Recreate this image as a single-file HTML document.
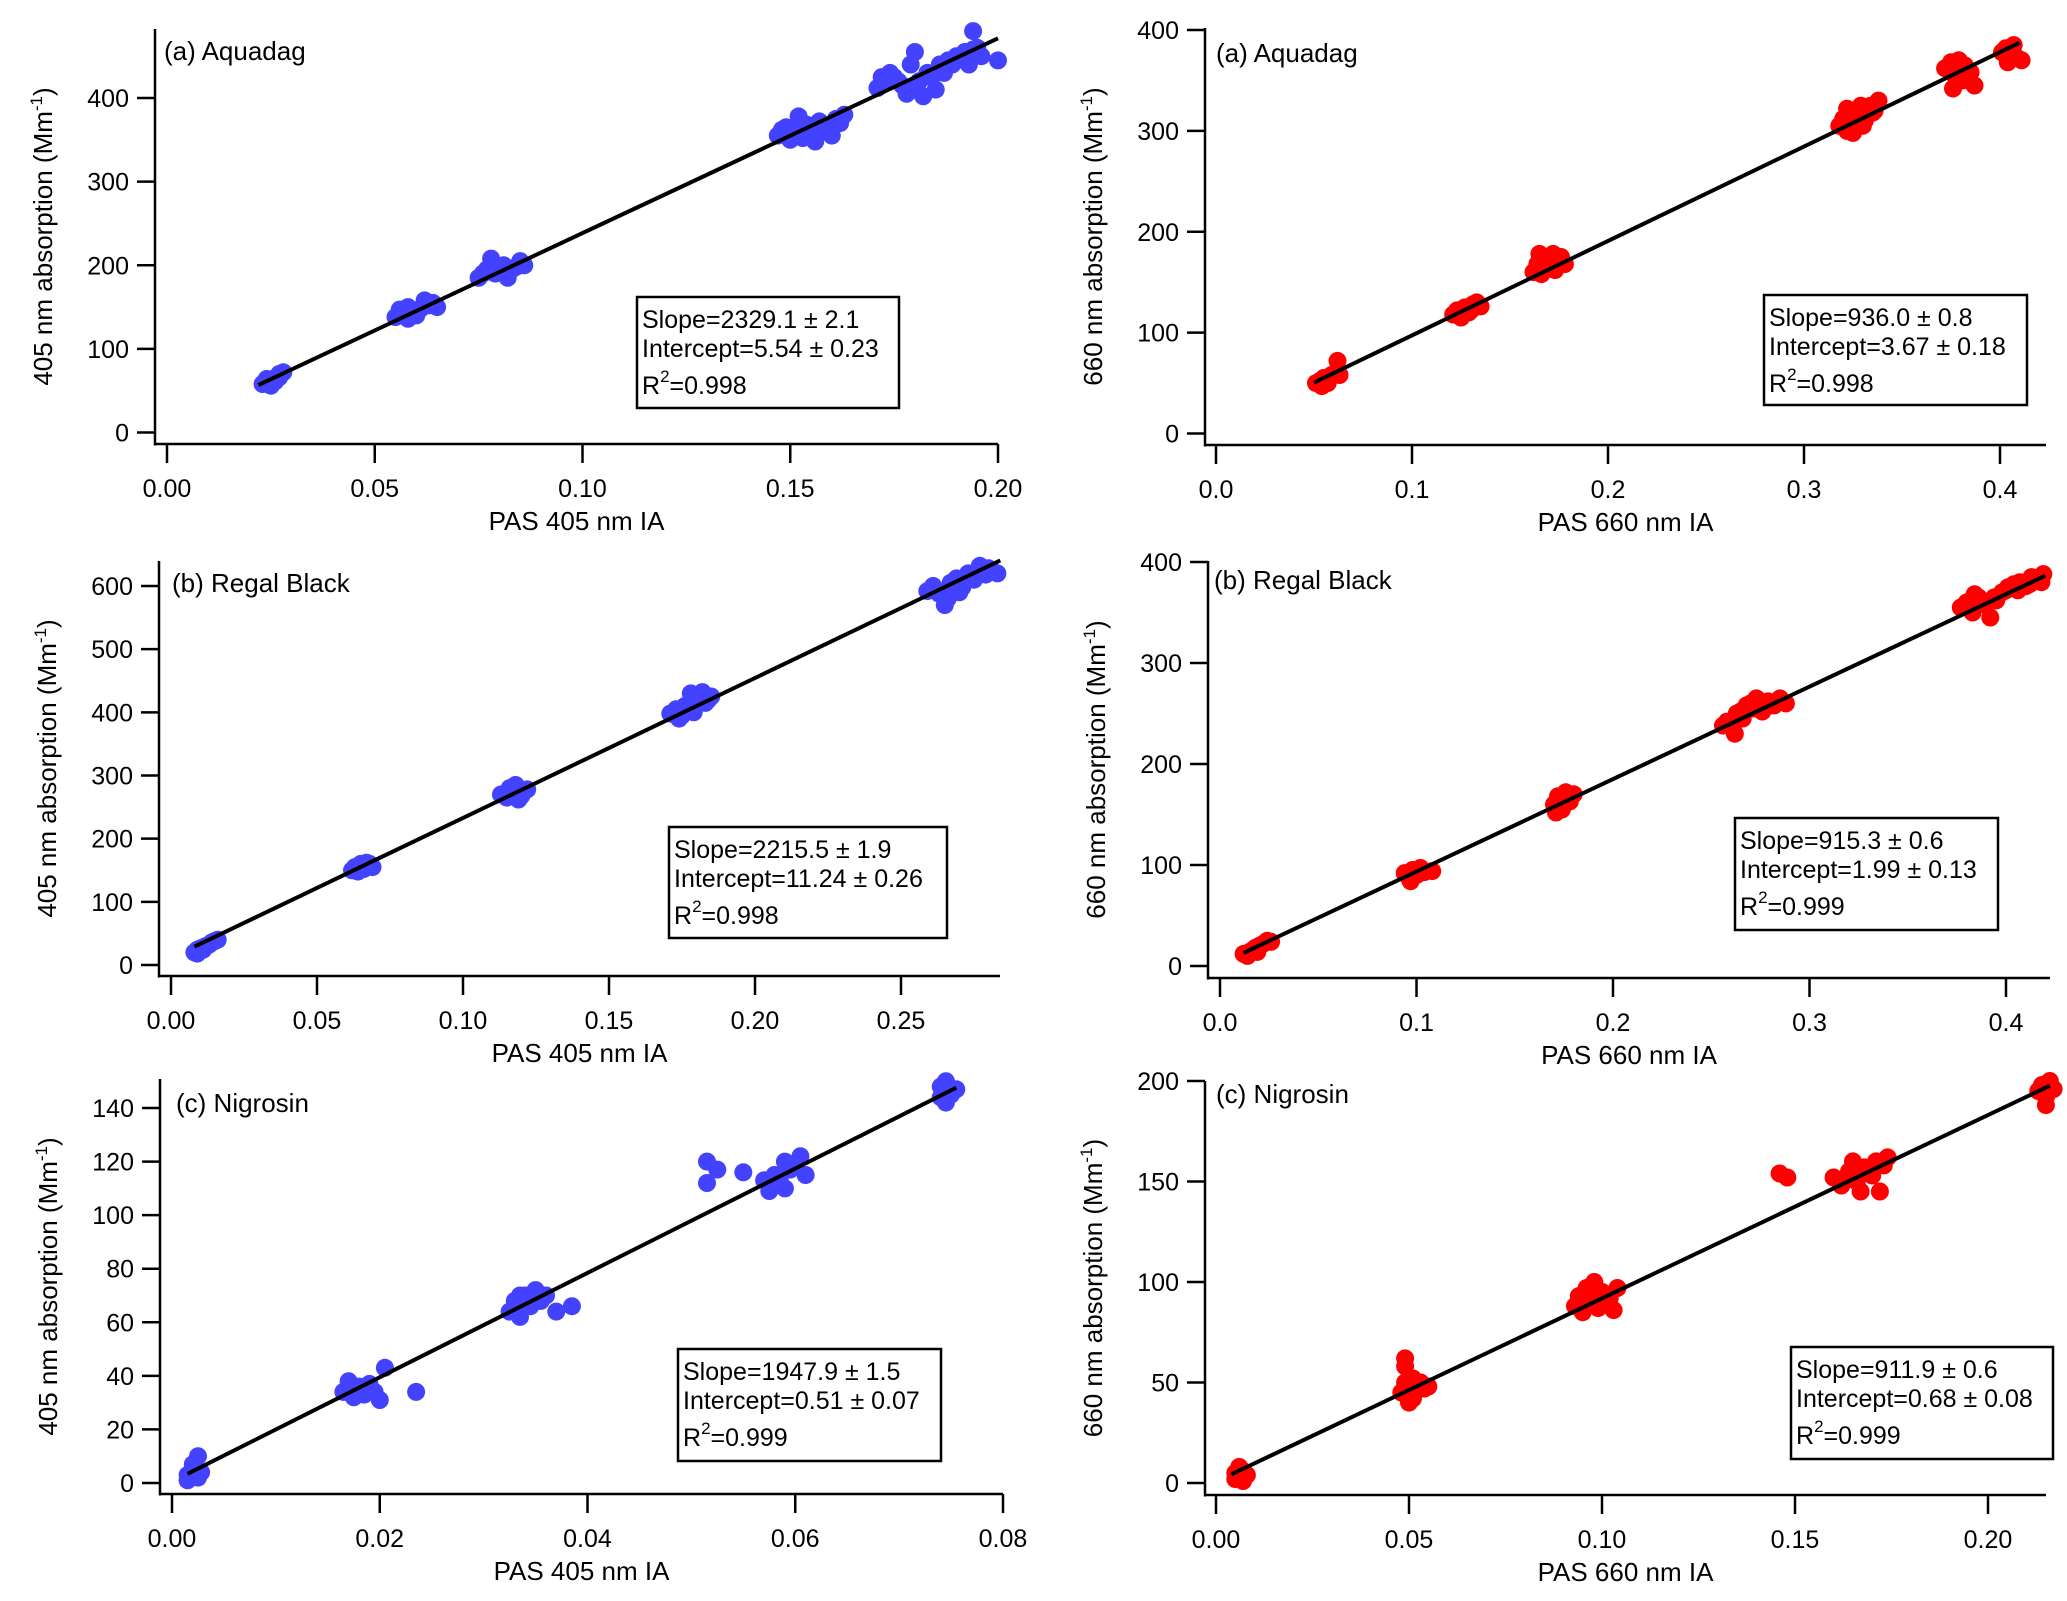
<!DOCTYPE html>
<html><head><meta charset="utf-8"><style>
html,body{margin:0;padding:0;background:#fff;}
svg{display:block;font-family:"Liberation Sans",Arial,sans-serif;}
</style></head><body>
<svg id="fig" width="2067" height="1601" viewBox="0 0 2067 1601" xmlns="http://www.w3.org/2000/svg"></svg>
<script>
// ---- data arrays ----
const tlX=[0.023,0.024,0.025,0.026,0.027,0.028,0.025,0.027,0.024,0.026,0.055,0.057,0.059,0.061,0.063,0.065,0.058,0.062,0.056,0.060,0.064,0.058,0.075,0.077,0.079,0.081,0.083,0.085,0.078,0.082,0.086,0.076,0.080,0.084,0.079,0.147,0.149,0.151,0.153,0.155,0.157,0.159,0.161,0.163,0.150,0.156,0.160,0.152,0.148,0.154,0.158,0.162,0.153,0.157,0.171,0.173,0.175,0.177,0.178,0.179,0.180,0.181,0.183,0.185,0.186,0.188,0.190,0.192,0.193,0.194,0.195,0.196,0.200,0.174,0.182,0.172,0.176,0.179,0.184,0.187,0.189,0.191,0.194];
const tlY=[58,62,60,65,70,72,56,66,64,61,138,142,145,148,152,150,136,158,147,140,155,150,185,195,190,200,195,205,208,185,200,190,192,198,200,355,365,360,370,358,372,365,375,380,350,348,355,378,362,368,362,370,352,360,412,420,425,415,405,440,455,420,430,410,440,445,450,455,440,480,460,450,445,430,402,425,420,410,425,430,440,448,458];
const trX=[0.051,0.053,0.055,0.057,0.059,0.061,0.062,0.063,0.054,0.056,0.058,0.121,0.123,0.125,0.127,0.129,0.131,0.133,0.135,0.126,0.130,0.162,0.164,0.166,0.168,0.170,0.172,0.174,0.176,0.178,0.165,0.169,0.173,0.167,0.318,0.320,0.322,0.324,0.326,0.328,0.330,0.332,0.334,0.336,0.338,0.325,0.322,0.327,0.331,0.329,0.335,0.372,0.375,0.377,0.379,0.381,0.383,0.385,0.387,0.376,0.378,0.382,0.401,0.403,0.405,0.407,0.409,0.411,0.404];
const trY=[50,52,55,50,58,60,72,58,47,52,55,118,122,115,125,120,128,130,126,120,122,160,168,158,172,165,178,170,175,168,178,165,162,170,305,312,300,318,310,322,305,315,325,320,330,298,322,315,310,325,318,362,368,355,370,350,362,358,345,342,360,365,378,382,375,385,372,370,368];
const mlX=[0.008,0.009,0.010,0.011,0.012,0.013,0.014,0.015,0.016,0.009,0.011,0.062,0.063,0.064,0.065,0.066,0.067,0.068,0.069,0.065,0.113,0.115,0.116,0.117,0.118,0.119,0.120,0.122,0.116,0.120,0.171,0.173,0.175,0.177,0.179,0.181,0.183,0.185,0.178,0.174,0.182,0.176,0.180,0.184,0.259,0.261,0.263,0.265,0.267,0.269,0.271,0.273,0.275,0.277,0.279,0.281,0.283,0.266,0.270,0.268,0.272,0.276,0.280];
const mlY=[20,24,26,28,30,32,36,38,40,18,24,150,155,148,158,152,162,160,155,160,270,265,280,272,285,262,275,278,270,268,398,405,395,410,400,420,415,425,430,390,432,410,415,420,592,600,588,570,605,612,598,620,610,632,618,625,620,580,590,600,612,620,628];
const mrX=[0.012,0.014,0.016,0.018,0.020,0.022,0.024,0.026,0.019,0.015,0.094,0.096,0.098,0.100,0.102,0.104,0.108,0.097,0.101,0.170,0.172,0.174,0.176,0.178,0.180,0.171,0.175,0.256,0.258,0.261,0.263,0.266,0.268,0.271,0.273,0.276,0.279,0.282,0.285,0.288,0.262,0.265,0.270,0.275,0.280,0.377,0.380,0.383,0.386,0.389,0.392,0.395,0.398,0.401,0.404,0.407,0.410,0.413,0.416,0.419,0.384,0.388,0.394,0.400,0.406,0.412,0.418];
const mrY=[12,10,15,18,20,22,25,24,14,14,92,88,95,90,97,93,94,84,92,160,168,155,172,163,170,152,165,238,242,235,250,245,258,255,265,252,262,258,265,260,230,252,260,262,258,355,360,350,365,358,345,362,370,375,378,380,376,385,382,388,368,360,365,372,372,378,380];
const blX=[0.0015,0.002,0.0025,0.002,0.0025,0.0015,0.0028,0.002,0.0165,0.017,0.0175,0.018,0.0185,0.019,0.0195,0.020,0.0205,0.0235,0.0175,0.0185,0.0325,0.033,0.0335,0.034,0.0345,0.035,0.0355,0.036,0.037,0.0385,0.034,0.0335,0.0515,0.0515,0.0525,0.055,0.057,0.058,0.059,0.060,0.0605,0.061,0.059,0.0575,0.0585,0.0595,0.074,0.0745,0.075,0.0745,0.0755,0.074];
const blY=[3,5,2,7,10,1,4,4,34,38,32,36,33,37,34,31,43,34,36,35,64,68,62,70,66,72,68,70,64,66,66,70,120,112,117,116,113,115,110,118,122,115,120,109,113,117,148,150,145,142,147,144];
const brX=[0.005,0.006,0.007,0.006,0.007,0.008,0.005,0.048,0.049,0.049,0.049,0.050,0.051,0.052,0.053,0.054,0.055,0.050,0.051,0.093,0.094,0.095,0.096,0.097,0.098,0.099,0.100,0.102,0.104,0.103,0.097,0.101,0.146,0.148,0.160,0.162,0.164,0.166,0.167,0.168,0.170,0.171,0.172,0.173,0.174,0.165,0.169,0.213,0.214,0.215,0.216,0.215,0.217];
const brY=[5,3,6,8,1,4,2,45,50,58,62,48,42,46,50,47,48,40,52,88,93,85,97,90,100,87,95,92,97,86,92,92,154,152,152,148,155,150,145,157,153,160,145,158,162,160,155,195,198,192,200,188,196];
const tlXTicks=[0,0.05,0.10,0.15,0.20], tlXLabels=["0.00","0.05","0.10","0.15","0.20"];
const tlYTicks=[0,100,200,300,400];
const trXTicks=[0,0.1,0.2,0.3,0.4], trXLabels=["0.0","0.1","0.2","0.3","0.4"];
const trYTicks=[0,100,200,300,400];
const mlXTicks=[0,0.05,0.10,0.15,0.20,0.25], mlXLabels=["0.00","0.05","0.10","0.15","0.20","0.25"];
const mlYTicks=[0,100,200,300,400,500,600];
const mrXTicks=[0,0.1,0.2,0.3,0.4], mrXLabels=["0.0","0.1","0.2","0.3","0.4"];
const mrYTicks=[0,100,200,300,400];
const blXTicks=[0,0.02,0.04,0.06,0.08], blXLabels=["0.00","0.02","0.04","0.06","0.08"];
const blYTicks=[0,20,40,60,80,100,120,140];
const brXTicks=[0,0.05,0.10,0.15,0.20], brXLabels=["0.00","0.05","0.10","0.15","0.20"];
const brYTicks=[0,50,100,150,200];
const fitSlopes=[2329.1,936.0,2215.5,915.3,1947.9,911.9];
const fitIntercepts=[5.54,3.67,11.24,1.99,0.51,0.68];
const fitXStart=[0.022,0.05,0.008,0.012,0.0015,0.004];
const fitXEnd=[0.2,0.41,0.284,0.42,0.0755,0.216];
const statSlope=["2329.1 ± 2.1","936.0 ± 0.8","2215.5 ± 1.9","915.3 ± 0.6","1947.9 ± 1.5","911.9 ± 0.6"];
const statInt=["5.54 ± 0.23","3.67 ± 0.18","11.24 ± 0.26","1.99 ± 0.13","0.51 ± 0.07","0.68 ± 0.08"];
const statR2=["0.998","0.998","0.998","0.999","0.999","0.999"];

const NS="http://www.w3.org/2000/svg";
const svg=document.getElementById('fig');
function mk(tag,attrs,parent){const e=document.createElementNS(NS,tag);for(const k in attrs)e.setAttribute(k,attrs[k]);(parent||svg).appendChild(e);return e;}

const panels=[
 {id:'aquadag-405',xs:tlX,ys:tlY,color:'#4242ff',ax:155,top:29,xay:444,right:998,x0px:167,x1px:998,x0:0,x1:0.2,y0px:432.5,y1px:98,y0:0,y1:400,xt:tlXTicks,xl:tlXLabels,yt:tlYTicks,box:[637,297,899,408],lab:"(a) Aquadag",lx:164,ly:60,xtitle:"PAS 405 nm IA",ytitle:"405 nm absorption (Mm"},
 {id:'aquadag-660',xs:trX,ys:trY,color:'#ff0000',ax:1205,top:28,xay:445,right:2046,x0px:1216,x1px:2000,x0:0,x1:0.4,y0px:433.5,y1px:30,y0:0,y1:400,xt:trXTicks,xl:trXLabels,yt:trYTicks,box:[1764,295,2027,405],lab:"(a) Aquadag",lx:1216,ly:62,xtitle:"PAS 660 nm IA",ytitle:"660 nm absorption (Mm"},
 {id:'regal-405',xs:mlX,ys:mlY,color:'#4242ff',ax:159,top:561,xay:976,right:1000,x0px:171,x1px:901,x0:0,x1:0.25,y0px:965,y1px:586,y0:0,y1:600,xt:mlXTicks,xl:mlXLabels,yt:mlYTicks,box:[669,827,947,938],lab:"(b) Regal Black",lx:172,ly:592,xtitle:"PAS 405 nm IA",ytitle:"405 nm absorption (Mm"},
 {id:'regal-660',xs:mrX,ys:mrY,color:'#ff0000',ax:1208,top:561,xay:978,right:2050,x0px:1220,x1px:2006,x0:0,x1:0.4,y0px:966,y1px:562,y0:0,y1:400,xt:mrXTicks,xl:mrXLabels,yt:mrYTicks,box:[1735,818,1998,930],lab:"(b) Regal Black",lx:1214,ly:589,xtitle:"PAS 660 nm IA",ytitle:"660 nm absorption (Mm"},
 {id:'nigrosin-405',xs:blX,ys:blY,color:'#4242ff',ax:160,top:1079,xay:1494,right:1003,x0px:172,x1px:1003,x0:0,x1:0.08,y0px:1483,y1px:1108,y0:0,y1:140,xt:blXTicks,xl:blXLabels,yt:blYTicks,box:[678,1349,941,1461],lab:"(c) Nigrosin",lx:176,ly:1112,xtitle:"PAS 405 nm IA",ytitle:"405 nm absorption (Mm"},
 {id:'nigrosin-660',xs:brX,ys:brY,color:'#ff0000',ax:1205,top:1081,xay:1495,right:2046,x0px:1216,x1px:1988,x0:0,x1:0.2,y0px:1483,y1px:1081,y0:0,y1:200,xt:brXTicks,xl:brXLabels,yt:brYTicks,box:[1791,1347,2053,1459],lab:"(c) Nigrosin",lx:1216,ly:1103,xtitle:"PAS 660 nm IA",ytitle:"660 nm absorption (Mm"}
];

panels.forEach((p,i)=>{
 const g=mk('g',{});
 
 
 const X=v=>p.x0px+(v-p.x0)/(p.x1-p.x0)*(p.x1px-p.x0px);
 const Y=v=>p.y0px+(v-p.y0)/(p.y1-p.y0)*(p.y1px-p.y0px);
 const pg=mk('g',{fill:p.color},g);
 
 
 p.xs.forEach((xv,j)=>{
  const c=mk('circle',{cx:X(xv).toFixed(1),cy:Y(p.ys[j]).toFixed(1),r:9},pg);
  
  
 });
 const xa=fitXStart[i],xb=fitXEnd[i];
 const fl=mk('line',{x1:X(xa),y1:Y(fitSlopes[i]*xa+fitIntercepts[i]),x2:X(xb),y2:Y(fitSlopes[i]*xb+fitIntercepts[i]),stroke:'#000','stroke-width':4},g);
 
 
 const ya=mk('line',{x1:p.ax,y1:p.top,x2:p.ax,y2:p.xay+1.5,stroke:'#000','stroke-width':2.5},g);
 
 
 const xaL=mk('line',{x1:p.ax-1,y1:p.xay,x2:p.right,y2:p.xay,stroke:'#000','stroke-width':2.5},g);
 
 
 p.yt.forEach(v=>{
  const y=Y(v);
  const t=mk('line',{x1:p.ax-18,y1:y,x2:p.ax,y2:y,stroke:'#000','stroke-width':2.5},g);
  
  
  const tx=mk('text',{x:p.ax-26,y:y+9,'font-size':25,'text-anchor':'end',fill:'#000'},g);
  tx.textContent=String(v);
  
  
 });
 p.xt.forEach((v,k)=>{
  const x=X(v);
  const t=mk('line',{x1:x,y1:p.xay,x2:x,y2:p.xay+19,stroke:'#000','stroke-width':2.5},g);
  
  
  const tx=mk('text',{x:x,y:p.xay+53,'font-size':25,'text-anchor':'middle',fill:'#000'},g);
  tx.textContent=p.xl[k];
  
  
 });
 const xt=mk('text',{x:(p.ax+p.right)/2,y:p.xay+86,'font-size':26,'text-anchor':'middle',fill:'#000'},g);
 xt.textContent=p.xtitle;
 
 
 const cy=(p.top+p.xay)/2, cx=p.ax-103;
 const yt=mk('text',{x:cx,y:cy,'font-size':26,'text-anchor':'middle',fill:'#000',transform:`rotate(-90 ${cx} ${cy})`},g);
 
 
 yt.appendChild(document.createTextNode(p.ytitle));
 const s1=mk('tspan',{dy:-10,'font-size':17},yt); s1.textContent='-1';
 const s2=mk('tspan',{dy:10},yt); s2.textContent=')';
 const lb=mk('text',{x:p.lx,y:p.ly,'font-size':26,fill:'#000'},g);
 lb.textContent=p.lab;
 
 
 const b=p.box;
 const bg=mk('g',{},g);
 
 
 mk('rect',{x:b[0],y:b[1],width:b[2]-b[0],height:b[3]-b[1],fill:'#fff',stroke:'#000','stroke-width':2.5},bg);
 const l1=mk('text',{x:b[0]+5,y:b[1]+31,'font-size':25,fill:'#000'},bg); l1.textContent='Slope='+statSlope[i];
 const l2=mk('text',{x:b[0]+5,y:b[1]+60,'font-size':25,fill:'#000'},bg); l2.textContent='Intercept='+statInt[i];
 const l3=mk('text',{x:b[0]+5,y:b[1]+97,'font-size':25,fill:'#000'},bg);
 l3.appendChild(document.createTextNode('R'));
 const s3=mk('tspan',{dy:-12,'font-size':17},l3); s3.textContent='2';
 const s4=mk('tspan',{dy:12},l3); s4.textContent='='+statR2[i];
});
</script>
</body></html>
